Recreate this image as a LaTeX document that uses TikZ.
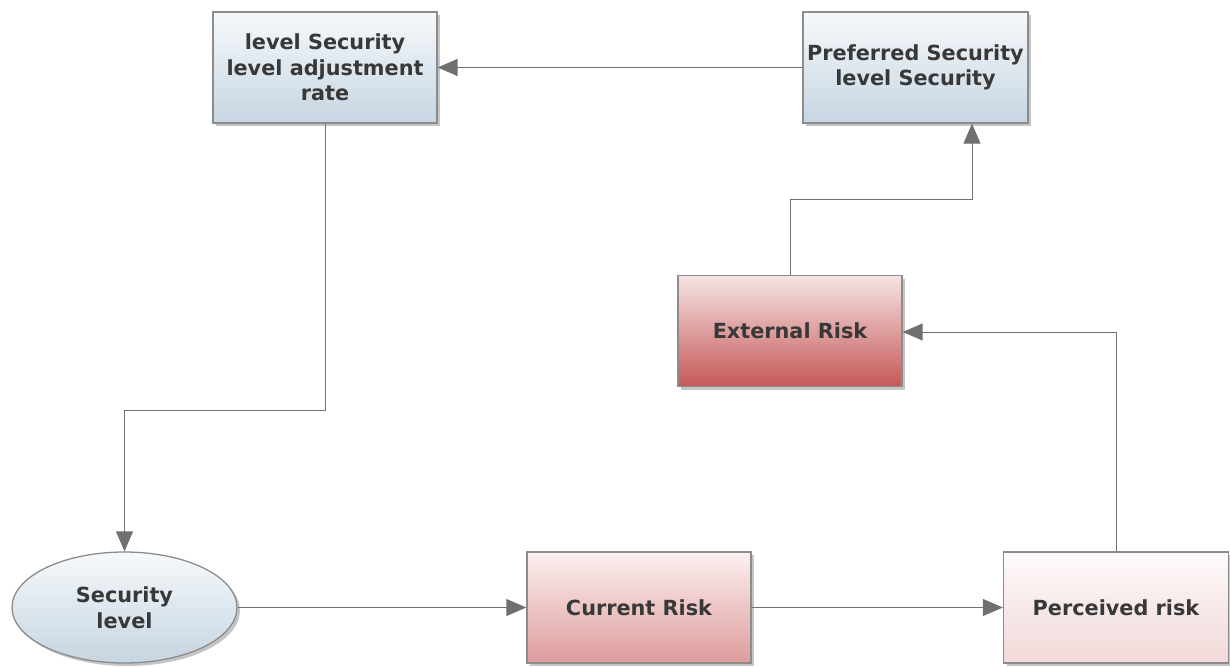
\documentclass[tikz,border=0pt]{standalone}
\usepackage{fontspec}
\setmainfont{DejaVu Sans}
\usetikzlibrary{arrows.meta,shapes.geometric,shadows}
\definecolor{txt}{HTML}{383838}
\definecolor{edge}{HTML}{8C8C8C}
\definecolor{conn}{HTML}{707070}
\definecolor{bluetop}{HTML}{F6F9FB}
\definecolor{bluebot}{HTML}{C6D5E2}
\definecolor{exttop}{HTML}{F6E4E4}
\definecolor{extbot}{HTML}{C65858}
\definecolor{curtop}{HTML}{FCF0F0}
\definecolor{curbot}{HTML}{DE9C9C}
\definecolor{pertop}{HTML}{FEFAFA}
\definecolor{perbot}{HTML}{F1D8D8}
\tikzset{
  box/.style={draw=edge, line width=1.3pt, minimum width=224pt, minimum height=111pt,
    inner sep=1pt, align=center, text=txt,
    font=\fontsize{20.8}{25.5}\selectfont\bfseries,
    drop shadow={shadow xshift=3pt, shadow yshift=-3pt, fill=black!45, opacity=0.5}},
  bluebox/.style={box, top color=bluetop, bottom color=bluebot},
  extbox/.style={box, top color=exttop, bottom color=extbot},
  curbox/.style={box, top color=curtop, bottom color=curbot},
  perbox/.style={box, top color=pertop, bottom color=perbot},
  ell/.style={box, ellipse, inner sep=0pt, minimum width=225pt, minimum height=111pt,
    top color=bluetop, bottom color=bluebot},
  link/.style={draw=conn, line width=1pt, -{Triangle[length=20pt,width=17pt]}},
}
\begin{document}
\begin{tikzpicture}[x=1pt,y=-1pt]
\useasboundingbox (0,0) rectangle (1230,668);
\node[bluebox] (adj) at (325,67.5) {level Security\\level adjustment\\rate};
\node[bluebox, minimum width=225pt] (pref) at (915.5,67.5) {Preferred Security\\level Security};
\node[extbox] (ext) at (790,331) {External Risk};
\node[ell] (sec) at (124.5,607.5) {Security\\level};
\node[curbox] (cur) at (639,607.5) {Current Risk};
\node[perbox, minimum width=225pt] (per) at (1116,607.5) {Perceived risk};
\coordinate (c1) at (325,410);
\coordinate (c2) at (1116,332);
\coordinate (c3) at (972,200);
\draw[link] (pref.west) -- (adj.east);
\draw[link] (adj.south) -- (c1) -| (sec.north);
\draw[link] (sec.east) -- (cur.west);
\draw[link] (cur.east) -- (per.west);
\draw[link] (per.north) -- (c2) -- (ext.east |- c2);
\draw[link] (ext.north) |- (c3) -- (c3 |- pref.south);
\end{tikzpicture}
\end{document}
